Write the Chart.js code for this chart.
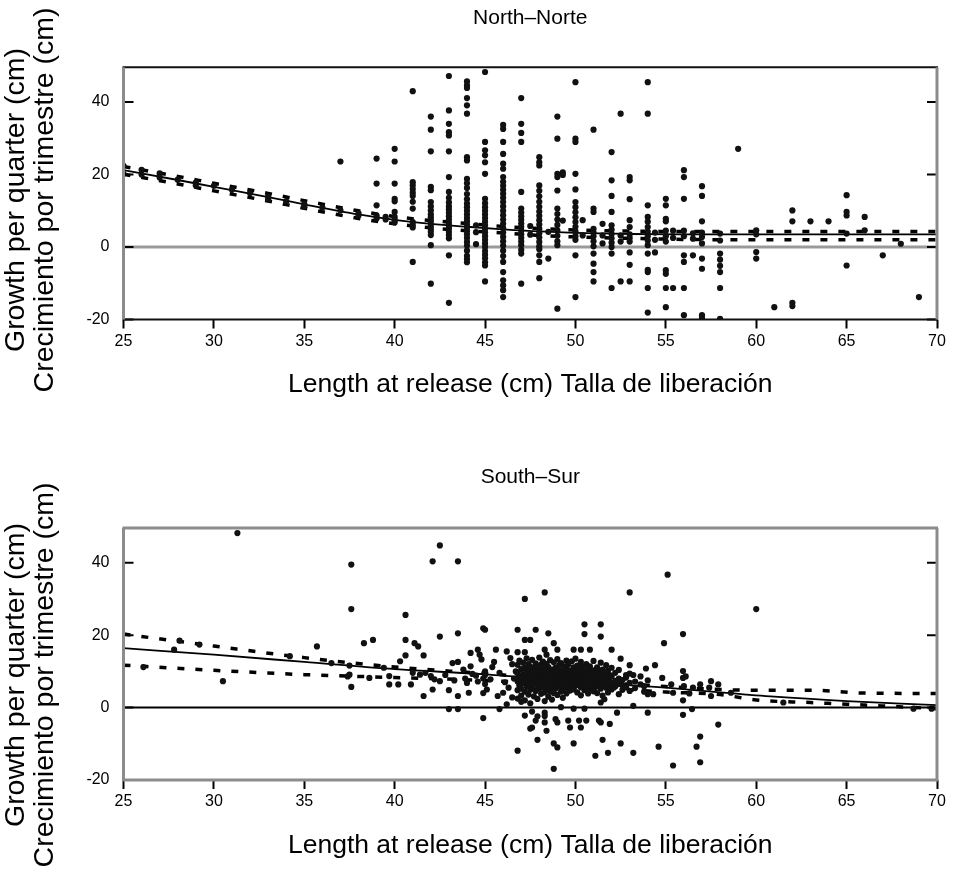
<!DOCTYPE html>
<html>
<head>
<meta charset="utf-8">
<script src="https://cdn.jsdelivr.net/npm/chart.js@4.4.1/dist/chart.umd.min.js"></script>
<style>
  html, body { margin: 0; padding: 0; background: #fff; }
  #wrap { position: relative; width: 954px; height: 876px; }
  canvas { position: absolute; left: 0; }
  #northChart { top: 0; }
  #southChart { top: 438px; }
</style>
</head>
<body>
<div id="wrap">
  <canvas id="northChart" width="954" height="438"></canvas>
  <canvas id="southChart" width="954" height="438"></canvas>
</div>
<script>
// axis ranges
const lengthRange = [25, 70];
const growthTicks = [-20, 0, 20, 40];
const growthTitle = ["Growth per quarter (cm)", "Crecimiento por trimestre (cm)"];

// North: tagged fish grouped by length at release (cm), growth per quarter (cm)
const northLengths = [25, 26, 27, 28, 29, 30, 31, 32, 33, 34, 35, 36, 37, 38, 39, 39.5, 40, 41, 42, 43, 44, 44.5, 45, 46, 47, 47.5, 48, 48.5, 49, 49.3, 50, 50.4, 51, 51.5, 52, 52.5, 53, 54, 54.4, 55, 55.4, 56, 56.5, 57, 58, 59, 60, 61, 62, 63, 64, 65, 66, 67, 68, 69];
const northGrowth = [
  [22.4, 20.2], [21.3, 20.0], [20.3, 19.2], [18.6], [17.8, 17.0], [16.9], [15.8], [14.9],
  [14.0, 13.2], [12.6], [11.9, 11.2], [10.9], [23.6, 10.1], [9.3, 8.7],
  [24.4, 17.5, 11.5, 8.7, 7.9],
  [8.3, 7.6],
  [27.1, 23.6, 17.5, 13.3, 12.6, 9.7, 8.3, 7.4, 6.8],
  [43.0, 17.9, 17.0, 16.0, 15.0, 14.1, 12.5, 10.6, 6.9, 6.1, 5.4, -4.1],
  [36.0, 32.4, 26.4, 16.6, 15.7, 12.4, 11.2, 10.1, 9.0, 8.2, 7.4, 6.6, 5.8, 5.0, 4.2, 3.3, 0.5, -10.1],
  [47.2, 37.7, 34.0, 31.7, 30.8, 26.4, 19.3, 15.2, 13.6, 12.3, 11.2, 10.3, 9.4, 8.5, 7.6, 6.7, 5.9, 5.1, 4.2, 3.3, 2.4, -2.3, -15.4],
  [45.7, 44.6, 43.9, 41.1, 39.1, 36.8, 24.8, 23.9, 18.8, 17.6, 16.3, 14.6, 13.2, 12.0, 11.0, 10.0, 9.0, 8.0, 7.1, 6.2, 5.3, 4.4, 3.5, 2.5, 1.4, 0.4, -1.0, -2.4, -3.3, -4.2],
  [6.0, 4.1, 0.8],
  [48.3, 29.0, 26.7, 25.3, 23.4, 20.2, 13.3, 12.1, 11.0, 10.0, 9.0, 8.0, 7.0, 6.0, 5.0, 4.0, 3.0, 2.0, 1.0, 0.0, -1.1, -2.1, -3.1, -4.2, -5.1, -9.5],
  [33.7, 32.6, 29.0, 25.7, 23.0, 21.6, 19.3, 18.0, 16.9, 15.8, 14.7, 13.6, 12.4, 11.2, 10.0, 8.8, 7.6, 6.4, 5.2, 4.0, 2.8, 1.6, 0.4, -1.0, -2.5, -4.1, -6.9, -9.2, -10.6, -11.9, -13.8],
  [41.1, 34.0, 31.5, 29.0, 15.2, 10.6, 9.5, 8.5, 7.5, 6.5, 5.5, 4.5, 3.5, 2.5, 1.5, 0.5, -0.8, -1.8, -10.1],
  [5.8, 3.4],
  [24.8, 23.4, 22.5, 17.0, 15.5, 14.0, 12.5, 11.1, 9.8, 8.6, 7.4, 6.2, 5.0, 3.8, 2.6, 1.4, 0.2, -0.6, -2.3, -4.1, -8.6],
  [4.2, -3.2],
  [36.0, 29.9, 20.2, 19.3, 15.6, 10.6, 9.1, 7.6, 6.1, 4.6, 3.1, 1.6, 0.5, -17.0],
  [20.6, 19.9, 7.3],
  [45.5, 29.9, 29.0, 20.2, 15.9, 12.4, 11.0, 9.6, 8.2, 6.9, 5.6, 4.3, 3.0, 2.0, -2.3, -13.8],
  [7.4, 3.2],
  [32.4, 10.6, 9.7, 5.0, 4.0, 3.0, 1.6, 0.2, -1.8, -4.6, -6.9, -9.5],
  [6.4, 3.2, 1.0],
  [26.2, 18.4, 14.1, 9.7, 6.0, 4.8, 3.6, 2.4, 1.2, 0.0, -1.8, -11.3],
  [36.8, 3.2, 1.5, -9.5],
  [19.3, 18.4, 13.2, 7.4, 5.5, 3.5, 2.5, 1.5, -1.5, -4.9, -9.5],
  [45.5, 36.8, 11.5, 8.3, 7.0, 5.5, 4.2, 3.0, 1.8, 0.5, -1.8, -6.3, -6.9, -11.3, -18.1],
  [4.0, 2.0, -1.5],
  [13.3, 11.5, 7.8, 7.1, 4.5, 3.0, 1.5, -6.4, -7.4, -11.3, -16.6],
  [4.5, 2.5, -11.3],
  [21.2, 19.3, 13.3, 4.5, 3.0, -2.3, -4.1, -11.3, -18.8],
  [3.8, 2.3, -2.3],
  [16.8, 14.1, 7.1, 4.0, 2.8, 1.0, -3.2, -6.0, -18.8, -19.6],
  [3.7, 1.8, -1.8, -3.5, -5.2, -6.9, -11.3, -19.8],
  [27.1],
  [4.6, 3.5, -1.4, -3.2],
  [-16.6],
  [10.1, 7.1, -15.4, -16.3],
  [7.1],
  [7.1],
  [14.3, 9.7, 8.7, 3.7, -5.1],
  [8.3, 4.6],
  [-2.3],
  [0.9],
  [-13.8]
];

// North fitted curve and its dashed bounds
const northFitX = [25, 28, 30, 33, 35, 38, 40, 42, 44, 46, 48, 50, 53, 56, 60, 65, 70];
const northFit = [21.2, 18.5, 16.6, 13.8, 11.8, 9.0, 7.5, 6.4, 5.6, 4.9, 4.3, 3.9, 3.6, 3.5, 3.5, 3.5, 3.5];
const northUpper = [22.2, 19.5, 17.6, 14.8, 12.8, 10.0, 8.4, 7.3, 6.5, 5.7, 5.1, 4.7, 4.4, 4.3, 4.3, 4.3, 4.3];
const northLower = [20.1, 17.4, 15.5, 12.7, 10.7, 7.9, 6.4, 5.3, 4.5, 3.9, 3.2, 2.8, 2.4, 2.1, 2.0, 2.0, 2.0];

// South: [length at release, growth per quarter]
const southSmall = [
  [31.3, 48.2], [37.6, 39.5], [37.6, 27.2], [27.8, 16.0], [28.1, 18.5], [29.2, 17.4], [30.5, 7.3],
  [26.1, 11.2], [35.7, 16.9], [34.2, 14.2], [37.5, 9.1], [37.6, 5.7], [37.4, 8.6], [38.3, 17.8],
  [38.8, 18.7], [38.6, 8.2], [36.5, 12.3], [37.5, 11.6]
];
const southMid = [
  [40.6, 25.6], [40.6, 18.7], [40.6, 14.4], [40.3, 12.8], [41.1, 17.8], [41.3, 16.9], [41.6, 14.4],
  [42.1, 40.4], [42.5, 44.8], [43.5, 40.4], [42.5, 19.6], [43.5, 20.5], [39.4, 11.0], [39.7, 8.7],
  [39.7, 6.4], [40.2, 6.4], [40.9, 6.4], [41.0, 9.6], [41.4, 9.1], [41.7, 9.6], [42.0, 8.7],
  [42.2, 7.8], [42.5, 7.3], [41.6, 3.2], [42.1, 5.0], [43.0, 4.8], [43.0, -0.4], [43.5, -0.4],
  [43.5, 3.2], [43.2, 12.3], [43.5, 12.6], [44.1, 4.1], [44.2, 15.1], [44.6, 16.0], [44.2, 11.4],
  [44.3, 9.3], [44.5, 8.8], [44.9, 21.9], [45.0, 21.5], [44.7, 14.6], [44.8, 13.3], [45.0, 10.0],
  [45.0, 9.0], [44.9, 8.0], [45.0, 6.5], [45.1, 5.0], [44.9, 4.0], [44.9, -2.9], [45.6, 16.0],
  [45.5, 12.6], [46.0, 4.1], [45.8, -0.4], [46.2, 0.9], [46.2, 15.5], [46.4, 13.7], [46.8, 21.5],
  [46.8, -11.9], [46.5, 12.0], [46.7, 10.0], [46.6, 8.0], [46.9, 6.5], [43.8, 10.5], [43.9, 8.0],
  [44.0, 6.8], [42.8, 9.0], [43.3, 7.5], [44.6, 7.2], [45.3, 7.8], [45.4, 11.2], [45.8, 9.6],
  [46.1, 7.0], [46.3, 5.5], [45.7, 3.2], [46.5, 2.8]
];
const southSpread = [
  [47.2, 30.0], [48.3, 31.8], [53.0, 31.8], [47.8, 21.5], [47.2, 18.7], [47.5, 18.7], [48.5, 20.5],
  [48.8, 17.8], [46.8, 15.3], [47.2, 15.3], [48.3, 16.0], [48.4, 14.6], [49.0, 16.0], [50.5, 23.0],
  [50.5, 20.3], [51.4, 23.0], [51.4, 19.6], [49.9, 16.0], [50.3, 16.0], [50.8, 16.0], [52.0, 16.0],
  [52.5, 13.5], [53.0, 11.7], [53.9, 10.8], [54.4, 11.7], [52.8, 9.0], [53.2, 9.0], [54.0, 7.5],
  [54.8, 8.2], [54.0, 3.7], [54.3, 3.7], [53.2, 0.5], [54.0, -1.4], [52.3, -1.4], [51.9, -4.5],
  [51.3, -3.6], [51.4, -4.1], [51.5, -8.9], [52.5, -9.9], [53.2, -12.5], [51.8, -12.5], [51.1, -13.3],
  [54.6, -10.8], [49.9, -9.9], [48.8, -9.9], [49.0, -11.0], [48.8, -16.9], [47.9, -8.9], [47.6, -5.5],
  [47.8, -3.6], [48.3, -4.1], [48.4, -6.4], [48.9, -3.2], [49.0, -4.1], [49.6, -3.6], [49.7, -5.5],
  [50.2, -3.6], [50.3, -5.5], [50.6, -3.6], [47.2, -2.2], [47.6, -1.1], [47.9, -2.4], [48.3, -1.4],
  [48.3, -2.3], [49.2, 0.1], [49.9, -0.3], [50.5, -0.3], [51.4, 1.4], [51.6, 2.3], [47.5, -5.8]
];
const southCoreX = [46.8, 46.9, 47.0, 47.1, 47.2, 47.3, 47.4, 47.5, 47.6, 47.7, 47.8, 47.9, 48.0, 48.1, 48.2, 48.3, 48.4, 48.5, 48.6, 48.7, 48.8, 48.9, 49.0, 49.1, 49.2, 49.3, 49.4, 49.5, 49.6, 49.7, 49.8, 49.9, 50.0, 50.1, 50.2, 50.3, 50.4, 50.5, 50.6, 50.7, 50.8, 50.9, 51.0, 51.1, 51.2, 51.3, 51.4, 51.5, 51.6, 51.7, 51.8, 51.9, 52.0, 52.2, 52.4, 52.6, 52.8, 53.0, 53.3, 53.6, 53.8];
const southCoreY = [
  [11.8, 9.5, 7.2, 4.8, 2.5], [13.0, 8.4, 6.0], [10.6, 8.0, 5.2, 3.3, 1.6], [12.4, 9.2, 6.8],
  [11.0, 7.5, 4.4, 2.0], [13.6, 9.8, 8.2, 5.9], [12.0, 10.4, 7.0, 3.6], [11.3, 8.8, 6.3, 4.9, 1.2],
  [13.2, 9.6, 7.6, 5.4], [10.9, 8.5, 6.7, 3.1], [12.2, 9.9, 7.9, 4.6], [11.5, 8.9, 6.1, 2.4],
  [13.8, 10.2, 8.1, 7.0, 5.2], [11.9, 9.4, 6.6, 3.8], [12.7, 10.6, 8.6, 5.7], [9.7, 7.7, 6.4, 4.2, 1.8],
  [12.1, 10.9, 8.3, 5.0], [11.2, 9.0, 7.3, 6.0, 3.0], [13.1, 9.9, 8.0, 4.5], [10.5, 8.7, 7.0, 5.6, 2.2],
  [12.5, 9.3, 6.8, 4.0], [11.0, 8.4, 7.6, 5.3], [13.4, 10.1, 9.0, 6.2, 3.5], [11.7, 8.9, 7.4, 5.8],
  [12.3, 10.3, 8.2, 6.6, 4.4], [9.6, 7.8, 7.0, 5.1, 2.7], [11.4, 9.2, 8.5, 6.3], [13.0, 10.7, 8.0, 7.2, 5.5, 3.9],
  [11.9, 9.5, 8.4, 6.7], [10.2, 8.7, 7.5, 5.9, 4.7], [12.8, 9.8, 8.1, 6.9], [11.1, 9.1, 7.7, 6.4, 5.0],
  [13.5, 10.4, 8.6, 7.3, 6.0], [11.6, 9.4, 8.3, 7.0, 4.2], [10.8, 8.9, 7.8, 6.5], [12.6, 9.9, 8.2, 5.6, 3.4],
  [11.3, 9.6, 7.4, 6.2], [10.1, 8.5, 6.8, 4.8], [12.0, 9.2, 7.6, 5.9], [10.6, 8.0, 6.5, 3.9],
  [11.4, 9.0, 7.2, 5.3], [9.7, 8.3, 6.1], [12.9, 10.3, 7.9, 6.9, 4.5], [9.5, 8.1, 5.7],
  [11.1, 8.8, 7.3, 4.0], [10.0, 7.7, 6.4], [12.4, 9.3, 6.9, 5.2], [10.5, 8.4, 7.0, 3.3],
  [9.1, 7.5, 6.0], [11.7, 8.2, 5.5], [10.2, 7.8, 6.6, 4.2], [9.0, 7.1], [11.0, 8.6, 6.3, 5.0],
  [9.6, 7.4, 5.8], [10.4, 8.0, 6.5, 3.7], [7.6, 6.2, 4.9], [8.3, 5.6], [9.4, 6.8, 4.6],
  [7.2, 5.4], [8.6, 6.4], [5.9, 4.4]
];
const southLarge = [
  [55.1, 36.7], [60.0, 27.2], [54.9, 17.8], [55.95, 20.3], [55.95, 10.1], [55.95, 8.2], [56.1, 8.6],
  [55.3, 6.4], [55.4, 4.1], [56.0, 5.9], [56.3, 3.9], [56.5, 5.5], [56.9, 6.4], [57.4, 5.5],
  [57.5, 7.3], [57.9, 6.4], [57.5, 3.2], [55.95, 2.0], [55.95, -2.0], [56.45, -0.4], [57.9, -4.7],
  [56.9, -8.0], [56.7, -10.8], [56.9, -15.1], [55.4, -16.0], [58.6, 4.1], [61.5, 1.4],
  [68.7, -0.3], [69.7, -0.3]
];

// South fitted curve and its dashed bounds
const southFitX = [25, 30, 35, 40, 45, 50, 55, 58, 61, 65, 68, 70];
const southFit = [16.4, 14.6, 12.6, 10.6, 9.2, 7.2, 5.5, 4.2, 3.0, 1.8, 1.1, 0.7];
const southBandX = [25, 30, 35, 40, 45, 50, 55, 58, 60, 63, 66, 70];
const southUpper = [20.3, 17.0, 13.8, 11.2, 9.4, 7.5, 5.8, 5.0, 4.8, 4.8, 4.0, 3.9];
const southLower = [11.7, 10.3, 9.1, 8.3, 7.5, 6.0, 4.3, 3.6, 2.1, 1.4, 0.7, -0.3];

const FONT = "'Liberation Sans', Arial, Helvetica, sans-serif";
Chart.defaults.font.family = FONT;
Chart.defaults.color = "#000";

function columnsToPoints(xs, cols) {
  const pts = [];
  xs.forEach((x, i) => cols[i].forEach(y => pts.push({ x, y })));
  return pts;
}
function pairsToPoints(pairs) {
  return pairs.map(p => ({ x: p[0], y: p[1] }));
}
function curve(xs, ys) {
  return xs.map((x, i) => ({ x, y: ys[i] }));
}

// frame around plot area + inward y ticks on both sides
const framePlugin = {
  id: "frame",
  afterDatasetsDraw(chart, args, opts) {
    const { ctx, chartArea: a, scales } = chart;
    ctx.save();
    ctx.strokeStyle = "#000";
    ctx.lineWidth = 2;
    scales.y.ticks.forEach(t => {
      const py = scales.y.getPixelForValue(t.value);
      ctx.beginPath();
      ctx.moveTo(a.left, py);
      ctx.lineTo(a.left + 10, py);
      ctx.moveTo(a.right, py);
      ctx.lineTo(a.right - 10, py);
      ctx.stroke();
    });
    const side = (x1, y1, x2, y2, s) => {
      ctx.strokeStyle = s[0];
      ctx.lineWidth = s[1];
      ctx.beginPath();
      ctx.moveTo(x1, y1);
      ctx.lineTo(x2, y2);
      ctx.stroke();
    };
    side(a.left - 1, a.top, a.right + 1, a.top, opts.top);
    side(a.left - 1, a.bottom, a.right + 1, a.bottom, opts.bottom);
    side(a.left, a.top, a.left, a.bottom, opts.left);
    side(a.right, a.top, a.right, a.bottom, opts.right);
    ctx.restore();
  }
};

// two-line rotated y title, placed where the original sits
const sideTitlePlugin = {
  id: "sideTitle",
  afterDraw(chart, args, opts) {
    const { ctx } = chart;
    ctx.save();
    ctx.fillStyle = "#000";
    ctx.font = "28.5px " + FONT;
    ctx.textAlign = "center";
    ctx.textBaseline = "middle";
    growthTitle.forEach((text, i) => {
      ctx.save();
      ctx.translate(opts.x[i], opts.y);
      ctx.rotate(-Math.PI / 2);
      ctx.fillText(text, 0, 0);
      ctx.restore();
    });
    ctx.restore();
  }
};

function makeChart(canvas, cfg) {
  const lineSet = (data, color, width, dash) => ({
    data,
    showLine: true,
    borderColor: color,
    borderWidth: width,
    borderDash: dash || [],
    pointRadius: 0,
    cubicInterpolationMode: "monotone",
    order: 2
  });
  return new Chart(canvas, {
    type: "scatter",
    data: {
      datasets: [
        {
          data: cfg.points,
          pointRadius: 3.1,
          pointBackgroundColor: "#111",
          pointBorderWidth: 0,
          order: 1
        },
        lineSet(cfg.fit, "#000", 1.8),
        lineSet(cfg.upper, "#000", 3.5, [7, 11]),
        lineSet(cfg.lower, "#000", 3.5, [7, 11]),
        lineSet(curve(lengthRange, [0, 0]), cfg.zeroColor, cfg.zeroWidth)
      ]
    },
    options: {
      responsive: false,
      animation: false,
      events: [],
      layout: { padding: { right: 17 } },
      plugins: {
        legend: { display: false },
        tooltip: { enabled: false },
        title: {
          display: true,
          text: cfg.title,
          fullSize: false,
          color: "#000",
          font: { size: 21, weight: "normal", family: FONT },
          padding: { top: cfg.titleTop, bottom: cfg.titleBottom }
        },
        frame: cfg.frame,
        sideTitle: { x: [16, 45.5], y: cfg.sideTitleY }
      },
      scales: {
        x: {
          type: "linear",
          position: "bottom",
          min: lengthRange[0],
          max: lengthRange[1],
          ticks: { stepSize: 5, padding: 3, font: { size: 16 }, color: "#000" },
          grid: { drawOnChartArea: false, drawTicks: true, tickLength: 9, tickWidth: 2, tickColor: "#000" },
          border: { display: false },
          title: {
            display: true,
            text: "Length at release (cm) Talla de liberación",
            font: { size: 26.5 },
            padding: { top: 0, bottom: cfg.xTitleBottom }
          },
          afterFit(scale) { scale.height = cfg.xHeight; }
        },
        y: {
          type: "linear",
          min: -20,
          max: 49.6,
          ticks: { stepSize: 20, padding: 14, font: { size: 16 }, color: "#000" },
          afterBuildTicks(scale) {
            scale.ticks = growthTicks.map(v => ({ value: v }));
          },
          grid: { display: false, drawTicks: false },
          border: { display: false },
          title: { display: false },
          afterFit(scale) { scale.width = 123.5; }
        }
      }
    },
    plugins: [framePlugin, sideTitlePlugin]
  });
}

const dark = ["#111", 2];
const grey = ["#8c8c8c", 3];

makeChart(document.getElementById("northChart"), {
  title: "North\u2013Norte",
  points: columnsToPoints(northLengths, northGrowth),
  fit: curve(northFitX, northFit),
  upper: curve(northFitX, northUpper),
  lower: curve(northFitX, northLower),
  zeroColor: "#9a9a9a",
  zeroWidth: 3,
  titleTop: 6,
  titleBottom: 36.1,
  xHeight: 118.5,
  xTitleBottom: 37.4,
  sideTitleY: 200,
  frame: { top: dark, bottom: dark, left: grey, right: grey }
});

makeChart(document.getElementById("southChart"), {
  title: "South\u2013Sur",
  points: pairsToPoints(southSmall)
    .concat(pairsToPoints(southMid))
    .concat(pairsToPoints(southSpread))
    .concat(columnsToPoints(southCoreX, southCoreY))
    .concat(pairsToPoints(southLarge)),
  fit: curve(southFitX, southFit),
  upper: curve(southBandX, southUpper),
  lower: curve(southBandX, southLower),
  zeroColor: "#000",
  zeroWidth: 2,
  titleTop: 26.4,
  titleBottom: 38.4,
  xHeight: 96,
  xTitleBottom: 14.4,
  sideTitleY: 237,
  frame: { top: grey, bottom: grey, left: grey, right: grey }
});
</script>
</body>
</html>
